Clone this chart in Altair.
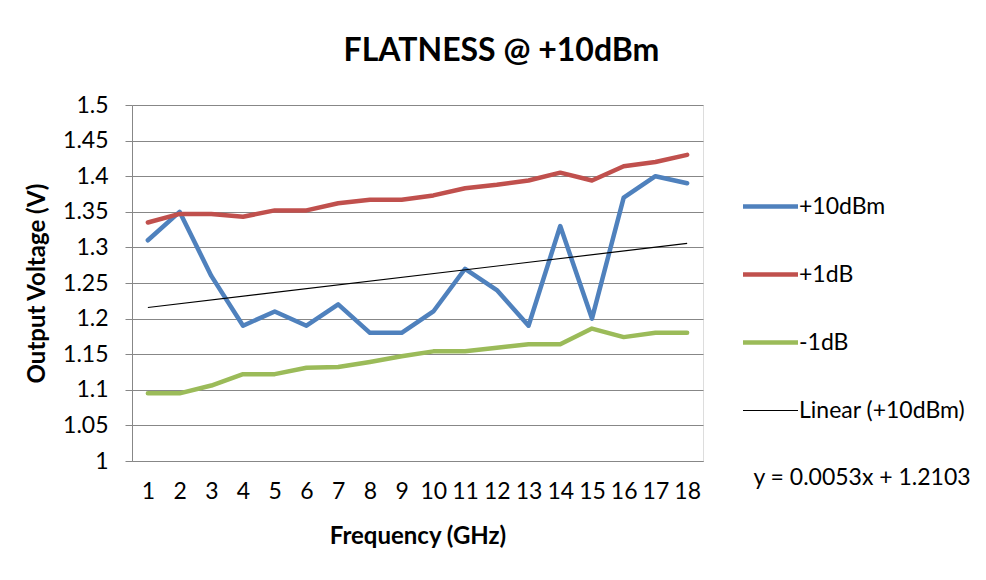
import altair as alt
import pandas as pd

# ---- data ----
freq = list(range(1, 19))
plus10dbm = [1.31, 1.35, 1.26, 1.19, 1.21, 1.19, 1.22, 1.18, 1.18, 1.21,
             1.27, 1.24, 1.19, 1.33, 1.20, 1.37, 1.40, 1.39]
plus1db = [1.335, 1.347, 1.347, 1.343, 1.352, 1.352, 1.362, 1.367, 1.367, 1.373,
           1.383, 1.388, 1.394, 1.405, 1.394, 1.414, 1.420, 1.430]
minus1db = [1.095, 1.095, 1.106, 1.122, 1.122, 1.131, 1.132, 1.139, 1.147, 1.154,
            1.154, 1.159, 1.164, 1.164, 1.186, 1.174, 1.180, 1.180]
series_names = ["+10dBm", "+1dB", "-1dB", "Linear (+10dBm)"]
series_colors = ["#4F81BD", "#C0504D", "#9BBB59", "#000000"]
y_ticks = [1.0, 1.05, 1.1, 1.15, 1.2, 1.25, 1.3, 1.35, 1.4, 1.45, 1.5]
equation = ["y = 0.0053x + 1.2103"]
chart_title = "FLATNESS @ +10dBm"

rows = []
for name, vals in zip(series_names[:3], [plus10dbm, plus1db, minus1db]):
    for f, v in zip(freq, vals):
        rows.append({"Frequency": f, "Voltage": v, "series": name})
df = pd.DataFrame(rows)
eq_df = pd.DataFrame({"label": equation})

W, H = 571, 356
FONT = "Lato"
GRID = "#878787"
LBL = 23
TTL = 24

x_enc = alt.X(
    "Frequency:Q",
    scale=alt.Scale(domain=[0.5, 18.5], nice=False, zero=False),
    axis=alt.Axis(values=freq, title="Frequency (GHz)", grid=False, ticks=False,
                  tickSize=0, labelPadding=19, titlePadding=21, format="d",
                  domainColor=GRID, labelFontSize=LBL, titleFontSize=TTL,
                  labelFont=FONT, titleFont=FONT, labelColor="#000",
                  titleColor="#000", titleFontWeight="bold", labelFlush=False,
                  labelOverlap=False),
)
y_enc = alt.Y(
    "Voltage:Q",
    scale=alt.Scale(domain=[1.0, 1.5], nice=False, zero=False),
    axis=alt.Axis(values=y_ticks, title="Output Voltage (V)", grid=True,
                  gridColor=GRID, gridOpacity=1, tickSize=7, tickColor=GRID,
                  labelPadding=17, titlePadding=13, domainColor=GRID,
                  labelExpr="'' + datum.value", labelFontSize=LBL,
                  titleFontSize=TTL, labelFont=FONT, titleFont=FONT,
                  labelColor="#000", titleColor="#000",
                  titleFontWeight="bold", labelFlush=False, labelOverlap=False),
)
legend = alt.Legend(
    title=None, orient="none", legendX=627, legendY=90,
    symbolType="stroke", symbolSize=3025, labelFontSize=LBL, labelFont=FONT,
    labelColor="#000", rowPadding=44, labelOffset=17, padding=0,
    labelLimit=400,
    symbolStrokeWidth=alt.ExprRef(
        "datum.value === 'Linear (+10dBm)' ? 1.2 : 4.5"),
)
color_enc = alt.Color("series:N",
                      scale=alt.Scale(domain=series_names, range=series_colors),
                      legend=legend)

lines = alt.Chart(df).mark_line(strokeWidth=4.5, strokeJoin="round",
                                strokeCap="round").encode(
    x=x_enc, y=y_enc, color=color_enc,
)

trend = (
    alt.Chart(df)
    .transform_filter(alt.datum.series == "+10dBm")
    .transform_regression("Frequency", "Voltage", method="linear", extent=[1, 18])
    .transform_calculate(series="'Linear (+10dBm)'")
    .mark_line(strokeWidth=1.2)
    .encode(x=x_enc, y=y_enc, color=color_enc)
)

eq_text = alt.Chart(eq_df).mark_text(
    font=FONT, fontSize=LBL, align="center", baseline="middle", color="#000"
).encode(text="label:N", x=alt.value(730), y=alt.value(373))

chart = (
    alt.layer(lines, trend, eq_text)
    .properties(
        width=W, height=H,
        title=alt.TitleParams(chart_title, font=FONT, fontSize=32,
                              fontWeight="bold", color="#000", anchor="middle",
                              frame="group", dx=84, dy=34, offset=35,
                              baseline="alphabetic"),
        autosize=alt.AutoSizeParams(type="none"),
        padding={"left": 124, "top": 97, "right": 275, "bottom": 111},
    )
    .configure_view(stroke=None)
    .configure(background="white")
)

chart.save("out.html", embed_options={"renderer": "svg", "actions": False})
